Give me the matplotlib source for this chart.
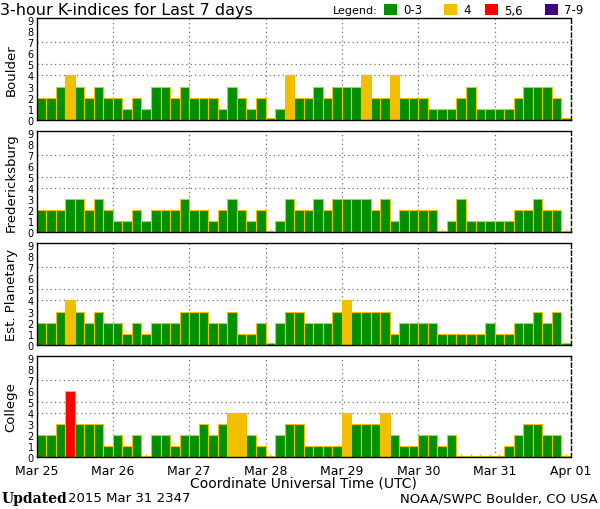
import matplotlib
matplotlib.use("Agg")
import matplotlib.pyplot as plt
from matplotlib.patches import Rectangle
import numpy as np

# 3-hour K-index values, 8 per day, Mar 25 .. Mar 31
stations = ['Boulder', 'Fredericksburg', 'Est. Planetary', 'College']
boulder = [2, 2, 3, 4, 3, 2, 3, 2,
           2, 1, 2, 1, 3, 3, 2, 3,
           2, 2, 2, 1, 3, 2, 1, 2,
           0, 1, 4, 2, 2, 3, 2, 3,
           3, 3, 4, 2, 2, 4, 2, 2,
           2, 1, 1, 1, 2, 3, 1, 1,
           1, 1, 2, 3, 3, 3, 2, 0]
fredericksburg = [2, 2, 2, 3, 3, 2, 3, 2,
                  1, 1, 2, 1, 2, 2, 2, 3,
                  2, 2, 1, 2, 3, 2, 1, 2,
                  0, 1, 3, 2, 2, 3, 2, 3,
                  3, 3, 3, 2, 3, 1, 2, 2,
                  2, 2, 0, 1, 3, 1, 1, 1,
                  1, 1, 2, 2, 3, 2, 2, 0]
planetary = [2, 2, 3, 4, 3, 2, 3, 2,
             2, 1, 2, 1, 2, 2, 2, 3,
             3, 3, 2, 2, 3, 1, 1, 2,
             0, 2, 3, 3, 2, 2, 2, 3,
             4, 3, 3, 3, 3, 1, 2, 2,
             2, 2, 1, 1, 1, 1, 1, 2,
             1, 1, 2, 2, 3, 2, 3, 0]
college = [2, 2, 3, 6, 3, 3, 3, 1,
           2, 1, 2, 0, 2, 2, 1, 2,
           2, 3, 2, 3, 4, 4, 2, 1,
           0, 2, 3, 3, 1, 1, 1, 1,
           4, 3, 3, 3, 4, 2, 1, 1,
           2, 2, 1, 2, 0, 0, 0, 0,
           0, 1, 2, 3, 3, 2, 2, 0]
all_k = [boulder, fredericksburg, planetary, college]

day_labels = ['Mar 25', 'Mar 26', 'Mar 27', 'Mar 28', 'Mar 29', 'Mar 30', 'Mar 31', 'Apr 01']
legend_labels = ['0-3', '4', '5,6', '7-9']
legend_colors = ['#009000', '#f0c000', '#ff0000', '#400080']
edge_col = '#f0c000'
grid_col = '#707070'


def k_color(k):
    if k <= 3:
        return legend_colors[0]
    elif k == 4:
        return legend_colors[1]
    elif k <= 6:
        return legend_colors[2]
    return legend_colors[3]


fig = plt.figure(figsize=(6, 5.1), dpi=100)

W, H = 600.0, 510.0
left = 36.5 / W
width = (571 - 36.5) / W
height = 101.7 / H
bottoms_px = [120.7, 233.2, 345.7, 458.2]

hours = np.arange(56) * 3 + 1.5

for i in range(len(stations)):
    ax = fig.add_axes([left, 1 - bottoms_px[i] / H, width, height])
    kvals = np.array(all_k[i])
    # zero values still drawn as a thin sliver
    shown = np.maximum(kvals, 0.12)
    cols = [k_color(k) for k in kvals]
    ax.bar(hours, shown, width=3, color=cols, edgecolor=edge_col, linewidth=0.8, zorder=2)

    ax.set_xlim(0, 168)
    ax.set_ylim(0, 9.2)
    ax.set_yticks(range(10))
    ax.set_yticklabels([str(v) for v in range(10)], fontsize=7)
    ax.tick_params(axis='y', length=0, pad=2)

    for y in [4, 5, 7]:
        ax.axhline(y, color=grid_col, linestyle=(0, (1, 2.5)), linewidth=0.9, zorder=1)
    for d in range(1, 7):
        ax.axvline(d * 24, color=grid_col, linestyle=(0, (1, 2.5)), linewidth=0.9, zorder=1)

    ax.set_xticks(np.arange(0, 169, 24))
    ax.set_xticks(hours, minor=True)
    ax.tick_params(axis='x', which='major', length=0, pad=5)
    ax.tick_params(axis='x', which='minor', direction='in', length=2, width=1, color=edge_col)
    if i == len(stations) - 1:
        ax.set_xticklabels(day_labels, fontsize=9)
        ax.set_xlabel('Coordinate Universal Time (UTC)', fontsize=10, labelpad=-1)
    else:
        ax.set_xticklabels([])

    ax.set_ylabel(stations[i], fontsize=9.5, labelpad=7)
    ax.spines['right'].set_linestyle((0, (3, 2)))
    for s in ax.spines.values():
        s.set_linewidth(1.0)

fig.text(0.0, 1 - 10 / H, '3-hour K-indices for Last 7 days', fontsize=11.5, va='center', ha='left')

# legend row at top right
fig.text(378 / W, 1 - 11 / H, 'Legend:', fontsize=8, va='center', ha='right')
box_x = [384, 444, 485, 545]
for j in range(len(legend_labels)):
    fig.patches.append(Rectangle((box_x[j] / W, 1 - 16 / H), 13 / W, 11 / H,
                                 transform=fig.transFigure, facecolor=legend_colors[j],
                                 edgecolor='none'))
    fig.text((box_x[j] + 19) / W, 1 - 11 / H, legend_labels[j], fontsize=8.5, va='center', ha='left')

fig.text(2 / W, 1 - 499 / H, 'Updated', fontsize=10, fontweight='bold', family='DejaVu Serif',
         va='center', ha='left')
fig.text(68 / W, 1 - 499 / H, '2015 Mar 31 2347', fontsize=9.5, va='center', ha='left')
fig.text(598 / W, 1 - 499 / H, 'NOAA/SWPC Boulder, CO USA', fontsize=9.5, va='center', ha='right')

fig.savefig('out.png', dpi=100)
